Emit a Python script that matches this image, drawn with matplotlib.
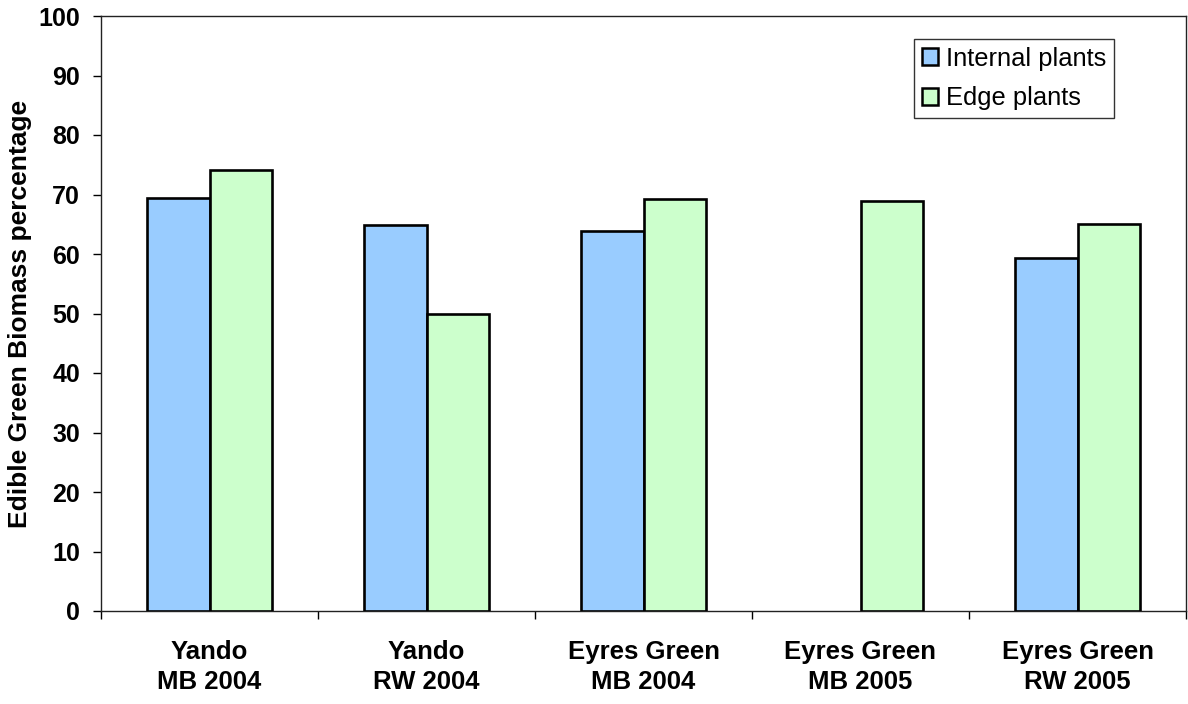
import matplotlib
matplotlib.use("Agg")
import matplotlib.pyplot as plt
import numpy as np
from matplotlib.patches import Patch

plt.rcParams['font.family'] = ['Liberation Sans', 'DejaVu Sans']

categories = ["Yando\nMB 2004", "Yando\nRW 2004", "Eyres Green\nMB 2004",
              "Eyres Green\nMB 2005", "Eyres Green\nRW 2005"]
internal_plants = [69.4, 64.9, 63.9, np.nan, 59.4]
edge_plants = [74.2, 49.9, 69.3, 68.9, 65.0]
series_names = ["Internal plants", "Edge plants"]
yticks = list(range(0, 101, 10))

fig = plt.figure(figsize=(11.88, 7.04), dpi=100)
ax = fig.add_axes([101 / 1188, 93 / 704, 1085 / 1188, 595 / 704])

x = np.arange(len(categories))
w = 0.286
ax.bar(x - w / 2, internal_plants, width=w, color="#99CCFF",
       edgecolor="black", linewidth=1.9, zorder=3)
ax.bar(x + w / 2, edge_plants, width=w, color="#CCFFCC",
       edgecolor="black", linewidth=1.9, zorder=3)

ax.set_xlim(-0.5, len(categories) - 0.5)
ax.set_ylim(0, 100)
ax.set_yticks(yticks)
ax.set_yticklabels([str(v) for v in yticks], fontsize=18, fontweight="bold")
ax.tick_params(axis="y", direction="out", length=6, width=1, pad=9)

ax.set_xticks(x)
ax.set_xticklabels(categories, fontsize=18.5, fontweight="bold",
                   linespacing=1.3)
ax.tick_params(axis="x", which="major", length=0, pad=21)
ax.set_xticks(np.arange(-0.5, len(categories), 1.0), minor=True)
ax.tick_params(axis="x", which="minor", direction="out", length=6, width=1)

for s in ax.spines.values():
    s.set_color("#222222")
    s.set_linewidth(1.0)

ax.set_ylabel("Edible Green Biomass percentage", fontsize=19,
              fontweight="bold")
ax.yaxis.set_label_coords(-0.0636, 0.5)

handles = [Patch(facecolor="#99CCFF", edgecolor="black", linewidth=1.8),
           Patch(facecolor="#CCFFCC", edgecolor="black", linewidth=1.8)]
leg = ax.legend(handles, series_names, loc="upper right",
                bbox_to_anchor=(0.9336, 0.9613), fontsize=18.4,
                frameon=True, fancybox=False, shadow=False,
                handlelength=0.65, handleheight=0.65, handletextpad=0.3,
                labelspacing=0.6, borderpad=0.3, borderaxespad=0)
leg.get_frame().set_edgecolor("black")
leg.get_frame().set_linewidth(1.0)

fig.savefig("out.png", dpi=100)
